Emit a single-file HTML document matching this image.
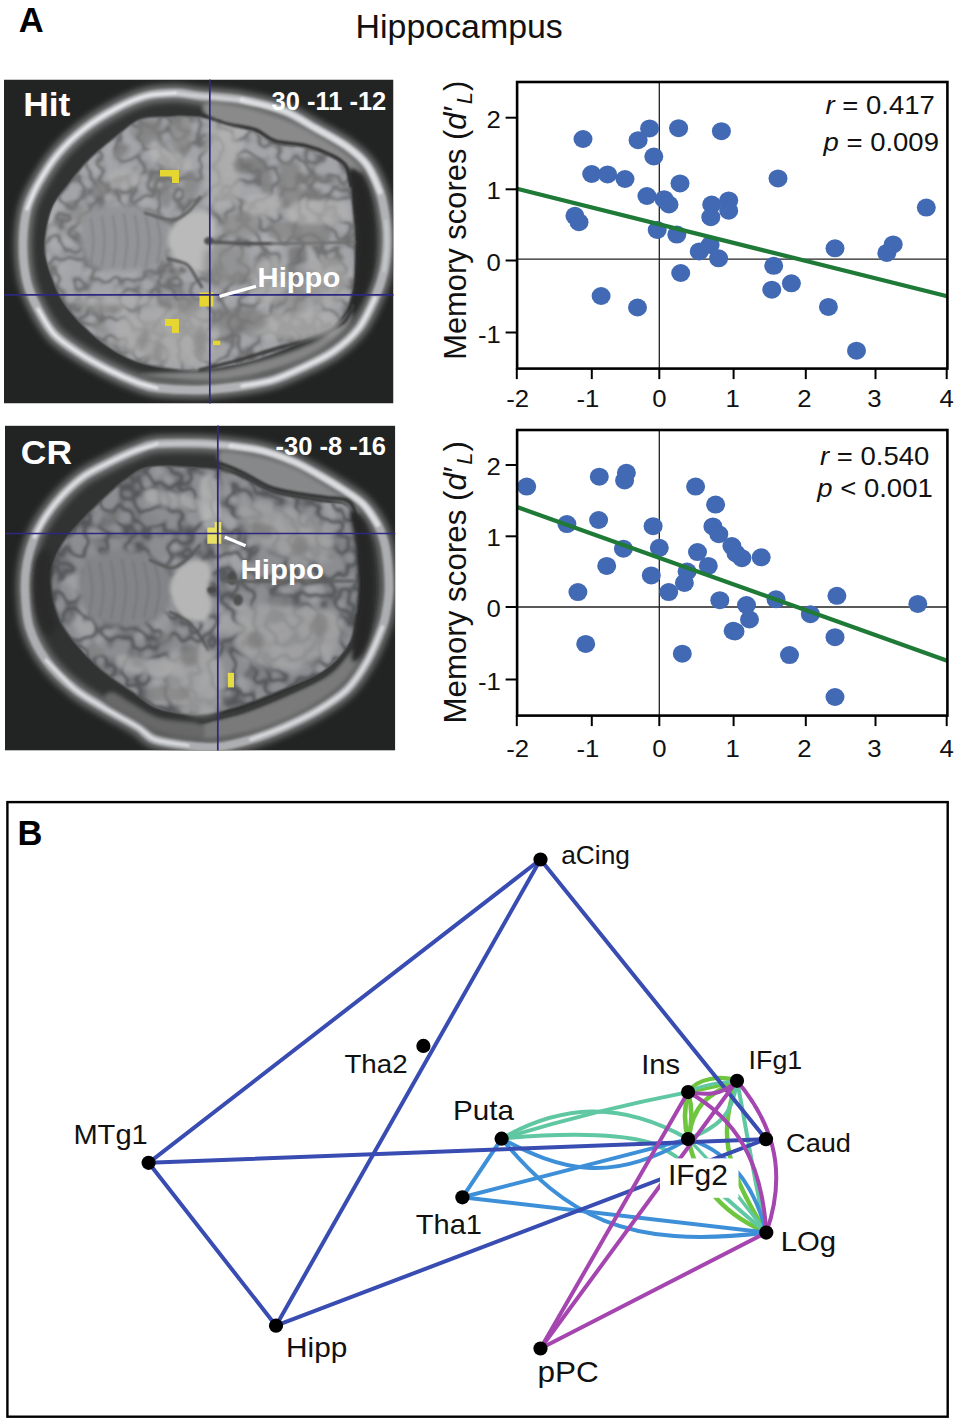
<!DOCTYPE html>
<html><head><meta charset="utf-8"><title>Figure</title>
<style>
html,body{margin:0;padding:0;background:#fff;}
body{width:957px;height:1422px;overflow:hidden;font-family:"Liberation Sans",sans-serif;}
svg{display:block;position:absolute;left:0;top:0;}
text{font-family:"Liberation Sans",sans-serif;}
</style></head><body>
<svg width="957" height="1422" viewBox="0 0 957 1422">
<defs>
<filter id="b0" filterUnits="userSpaceOnUse" x="0" y="70" width="400" height="690"><feGaussianBlur stdDeviation="0.7"/></filter>
<filter id="b1" filterUnits="userSpaceOnUse" x="0" y="70" width="400" height="690"><feGaussianBlur stdDeviation="1.2"/></filter>
<filter id="b2" filterUnits="userSpaceOnUse" x="0" y="70" width="400" height="690"><feGaussianBlur stdDeviation="2.0"/></filter>
<filter id="b3" filterUnits="userSpaceOnUse" x="0" y="70" width="400" height="690"><feGaussianBlur stdDeviation="3.2"/></filter>
<filter id="b5" filterUnits="userSpaceOnUse" x="0" y="70" width="400" height="690"><feGaussianBlur stdDeviation="6"/></filter>
<filter id="tex" filterUnits="userSpaceOnUse" x="0" y="70" width="400" height="690" color-interpolation-filters="sRGB">
 <feTurbulence type="fractalNoise" baseFrequency="0.05" numOctaves="2" seed="7" result="n"/>
 <feColorMatrix in="n" type="matrix" values="0 0 0 0 0.36  0 0 0 0 0.36  0 0 0 0 0.36  1 0 0 0 0" result="a"/>
 <feComponentTransfer in="a" result="b"><feFuncA type="table" tableValues="0 0 0 0 0 0.25 0.85 0.25 0 0 0 0 0"/></feComponentTransfer>
 <feGaussianBlur in="b" stdDeviation="1.0" result="c"/>
 <feComposite in="c" in2="SourceGraphic" operator="in"/>
</filter>
<filter id="texB" filterUnits="userSpaceOnUse" x="0" y="70" width="400" height="690" color-interpolation-filters="sRGB">
 <feTurbulence type="fractalNoise" baseFrequency="0.047" numOctaves="2" seed="23" result="n"/>
 <feColorMatrix in="n" type="matrix" values="0 0 0 0 0.30  0 0 0 0 0.31  0 0 0 0 0.32  1 0 0 0 0" result="a"/>
 <feComponentTransfer in="a" result="b"><feFuncA type="table" tableValues="0 0 0 0 0 0.3 0.9 0.3 0 0 0 0 0"/></feComponentTransfer>
 <feGaussianBlur in="b" stdDeviation="1.1" result="c"/>
 <feComposite in="c" in2="SourceGraphic" operator="in"/>
</filter>
<filter id="tex2" filterUnits="userSpaceOnUse" x="0" y="70" width="400" height="690" color-interpolation-filters="sRGB">
 <feTurbulence type="fractalNoise" baseFrequency="0.028" numOctaves="2" seed="11" result="n"/>
 <feColorMatrix in="n" type="matrix" values="0 0 0 0 0.74  0 0 0 0 0.74  0 0 0 0 0.74  0 1 0 0 0" result="a"/>
 <feComponentTransfer in="a" result="b"><feFuncA type="table" tableValues="0 0 0 0 0 0 0 0.3 0.6 0.8 0.8 0.8 0.8"/></feComponentTransfer>
 <feGaussianBlur in="b" stdDeviation="1.6" result="c"/>
 <feComposite in="c" in2="SourceGraphic" operator="in"/>
</filter>
<clipPath id="clipA"><rect x="4" y="79.5" width="389.5" height="324"/></clipPath>
<clipPath id="clipB"><rect x="5" y="425.6" width="390.3" height="325"/></clipPath>
</defs>
<g clip-path="url(#clipA)">
<rect x="4" y="79.5" width="389.5" height="324" fill="#222423"/>
<path d="M200.0,96.0 C211.2,97.2 228.0,97.5 242.0,100.0 C256.0,102.5 271.8,106.3 284.0,111.0 C296.2,115.7 304.7,122.2 315.0,128.0 C325.3,133.8 337.3,139.8 346.0,146.0 C354.7,152.2 361.3,157.3 367.0,165.0 C372.7,172.7 376.8,182.7 380.0,192.0 C383.2,201.3 384.8,212.2 386.0,221.0 C387.2,229.8 387.3,236.7 387.0,245.0 C386.7,253.3 386.0,262.2 384.0,271.0 C382.0,279.8 379.2,288.5 375.0,298.0 C370.8,307.5 365.8,319.2 359.0,328.0 C352.2,336.8 343.2,344.5 334.0,351.0 C324.8,357.5 314.2,362.2 304.0,367.0 C293.8,371.8 283.3,376.8 273.0,380.0 C262.7,383.2 254.2,384.3 242.0,386.0 C229.8,387.7 214.2,389.7 200.0,390.0 C185.8,390.3 167.7,389.3 157.0,388.0 C146.3,386.7 144.0,385.0 136.0,382.0 C128.0,379.0 118.5,374.8 109.0,370.0 C99.5,365.2 88.2,359.0 79.0,353.0 C69.8,347.0 60.8,341.3 54.0,334.0 C47.2,326.7 42.5,317.7 38.0,309.0 C33.5,300.3 29.5,292.7 27.0,282.0 C24.5,271.3 23.0,257.2 23.0,245.0 C23.0,232.8 24.5,219.2 27.0,209.0 C29.5,198.8 32.8,193.2 38.0,184.0 C43.2,174.8 50.3,163.2 58.0,154.0 C65.7,144.8 74.2,136.7 84.0,129.0 C93.8,121.3 106.7,113.5 117.0,108.0 C127.3,102.5 136.3,98.5 146.0,96.0 C155.7,93.5 166.0,93.0 175.0,93.0 C184.0,93.0 188.8,94.8 200.0,96.0Z" fill="#303332"/>
<path d="M200.0,96.0 C211.2,97.2 228.0,97.5 242.0,100.0 C256.0,102.5 271.8,106.3 284.0,111.0 C296.2,115.7 304.7,122.2 315.0,128.0 C325.3,133.8 337.3,139.8 346.0,146.0 C354.7,152.2 361.3,157.3 367.0,165.0 C372.7,172.7 376.8,182.7 380.0,192.0 C383.2,201.3 384.8,212.2 386.0,221.0 C387.2,229.8 387.3,236.7 387.0,245.0 C386.7,253.3 386.0,262.2 384.0,271.0 C382.0,279.8 379.2,288.5 375.0,298.0 C370.8,307.5 365.8,319.2 359.0,328.0 C352.2,336.8 343.2,344.5 334.0,351.0 C324.8,357.5 314.2,362.2 304.0,367.0 C293.8,371.8 283.3,376.8 273.0,380.0 C262.7,383.2 254.2,384.3 242.0,386.0 C229.8,387.7 214.2,389.7 200.0,390.0 C185.8,390.3 167.7,389.3 157.0,388.0 C146.3,386.7 144.0,385.0 136.0,382.0 C128.0,379.0 118.5,374.8 109.0,370.0 C99.5,365.2 88.2,359.0 79.0,353.0 C69.8,347.0 60.8,341.3 54.0,334.0 C47.2,326.7 42.5,317.7 38.0,309.0 C33.5,300.3 29.5,292.7 27.0,282.0 C24.5,271.3 23.0,257.2 23.0,245.0 C23.0,232.8 24.5,219.2 27.0,209.0 C29.5,198.8 32.8,193.2 38.0,184.0 C43.2,174.8 50.3,163.2 58.0,154.0 C65.7,144.8 74.2,136.7 84.0,129.0 C93.8,121.3 106.7,113.5 117.0,108.0 C127.3,102.5 136.3,98.5 146.0,96.0 C155.7,93.5 166.0,93.0 175.0,93.0 C184.0,93.0 188.8,94.8 200.0,96.0Z" fill="none" stroke="#747474" stroke-width="17" filter="url(#b3)"/>
<path d="M200.0,96.0 C211.2,97.2 228.0,97.5 242.0,100.0 C256.0,102.5 271.8,106.3 284.0,111.0 C296.2,115.7 304.7,122.2 315.0,128.0 C325.3,133.8 337.3,139.8 346.0,146.0 C354.7,152.2 361.3,157.3 367.0,165.0 C372.7,172.7 376.8,182.7 380.0,192.0 C383.2,201.3 384.8,212.2 386.0,221.0 C387.2,229.8 387.3,236.7 387.0,245.0 C386.7,253.3 386.0,262.2 384.0,271.0 C382.0,279.8 379.2,288.5 375.0,298.0 C370.8,307.5 365.8,319.2 359.0,328.0 C352.2,336.8 343.2,344.5 334.0,351.0 C324.8,357.5 314.2,362.2 304.0,367.0 C293.8,371.8 283.3,376.8 273.0,380.0 C262.7,383.2 254.2,384.3 242.0,386.0 C229.8,387.7 214.2,389.7 200.0,390.0 C185.8,390.3 167.7,389.3 157.0,388.0 C146.3,386.7 144.0,385.0 136.0,382.0 C128.0,379.0 118.5,374.8 109.0,370.0 C99.5,365.2 88.2,359.0 79.0,353.0 C69.8,347.0 60.8,341.3 54.0,334.0 C47.2,326.7 42.5,317.7 38.0,309.0 C33.5,300.3 29.5,292.7 27.0,282.0 C24.5,271.3 23.0,257.2 23.0,245.0 C23.0,232.8 24.5,219.2 27.0,209.0 C29.5,198.8 32.8,193.2 38.0,184.0 C43.2,174.8 50.3,163.2 58.0,154.0 C65.7,144.8 74.2,136.7 84.0,129.0 C93.8,121.3 106.7,113.5 117.0,108.0 C127.3,102.5 136.3,98.5 146.0,96.0 C155.7,93.5 166.0,93.0 175.0,93.0 C184.0,93.0 188.8,94.8 200.0,96.0Z" fill="none" stroke="#b0b2b5" stroke-width="8.5" filter="url(#b1)"/>
<path d="M27.0,209.0 C28.8,204.8 32.8,193.2 38.0,184.0 C43.2,174.8 50.3,163.2 58.0,154.0 C65.7,144.8 74.2,136.7 84.0,129.0 C93.8,121.3 106.7,113.5 117.0,108.0 C127.3,102.5 136.3,98.5 146.0,96.0 C155.7,93.5 170.2,93.5 175.0,93.0" fill="none" stroke="#eef0f2" stroke-width="3.2" stroke-linecap="round" filter="url(#b1)" opacity="0.9"/>
<path d="M157.0,388.0 C153.5,387.0 144.0,385.0 136.0,382.0 C128.0,379.0 118.5,374.8 109.0,370.0 C99.5,365.2 88.2,359.0 79.0,353.0 C69.8,347.0 60.8,341.3 54.0,334.0 C47.2,326.7 40.7,313.2 38.0,309.0" fill="none" stroke="#eef0f2" stroke-width="3.2" stroke-linecap="round" filter="url(#b1)" opacity="0.9"/>
<path d="M242.0,100.0 C249.0,101.8 271.8,106.3 284.0,111.0 C296.2,115.7 304.7,122.2 315.0,128.0 C325.3,133.8 337.3,139.8 346.0,146.0 C354.7,152.2 361.3,157.3 367.0,165.0 C372.7,172.7 377.8,187.5 380.0,192.0" fill="none" stroke="#eef0f2" stroke-width="5.0" stroke-linecap="round" filter="url(#b1)" opacity="0.7"/>
<path d="M375.0,298.0 C372.3,303.0 365.8,319.2 359.0,328.0 C352.2,336.8 343.2,344.5 334.0,351.0 C324.8,357.5 314.2,362.2 304.0,367.0 C293.8,371.8 283.3,376.8 273.0,380.0 C262.7,383.2 247.2,385.0 242.0,386.0" fill="none" stroke="#eef0f2" stroke-width="3.6" stroke-linecap="round" filter="url(#b1)" opacity="0.8"/>
<path d="M175.0,93.0 C179.2,93.5 188.8,94.8 200.0,96.0 C211.2,97.2 235.0,99.3 242.0,100.0" fill="none" stroke="#eef0f2" stroke-width="3.2" stroke-linecap="round" filter="url(#b1)" opacity="0.5"/>
<path d="M386.0,221.0 C386.2,225.0 387.3,236.7 387.0,245.0 C386.7,253.3 384.5,266.7 384.0,271.0" fill="none" stroke="#eef0f2" stroke-width="3.2" stroke-linecap="round" filter="url(#b1)" opacity="0.35"/>
<path d="M205.0,103.0 C210.8,100.8 231.7,104.3 245.0,107.0 C258.3,109.7 272.8,114.2 285.0,119.0 C297.2,123.8 308.0,130.3 318.0,136.0 C328.0,141.7 337.7,147.3 345.0,153.0 C352.3,158.7 360.8,166.8 362.0,170.0 C363.2,173.2 357.3,174.0 352.0,172.0 C346.7,170.0 338.7,161.7 330.0,158.0 C321.3,154.3 310.0,152.3 300.0,150.0 C290.0,147.7 280.0,147.3 270.0,144.0 C260.0,140.7 250.0,134.0 240.0,130.0 C230.0,126.0 215.8,124.5 210.0,120.0 C204.2,115.5 199.2,105.2 205.0,103.0Z" fill="#8a8a8a" filter="url(#b2)" opacity="1"/>
<path d="M140.0,375.0 C143.3,376.5 182.5,380.7 200.0,381.0 C217.5,381.3 230.8,379.5 245.0,377.0 C259.2,374.5 272.5,370.5 285.0,366.0 C297.5,361.5 309.7,356.3 320.0,350.0 C330.3,343.7 341.7,334.3 347.0,328.0 C352.3,321.7 352.5,313.7 352.0,312.0 C351.5,310.3 348.5,314.0 344.0,318.0 C339.5,322.0 333.2,330.7 325.0,336.0 C316.8,341.3 305.8,345.8 295.0,350.0 C284.2,354.2 272.5,357.7 260.0,361.0 C247.5,364.3 233.3,368.2 220.0,370.0 C206.7,371.8 193.3,371.2 180.0,372.0 C166.7,372.8 136.7,373.5 140.0,375.0Z" fill="#858585" filter="url(#b2)" opacity="1"/>
<path d="M200.0,117.0 C207.5,117.2 208.0,116.3 215.0,118.0 C222.0,119.7 232.3,123.0 242.0,127.0 C251.7,131.0 262.5,138.5 273.0,142.0 C283.5,145.5 295.5,145.7 305.0,148.0 C314.5,150.3 323.3,153.0 330.0,156.0 C336.7,159.0 341.5,161.7 345.0,166.0 C348.5,170.3 349.8,176.3 351.0,182.0 C352.2,187.7 351.5,193.5 352.0,200.0 C352.5,206.5 353.5,214.3 354.0,221.0 C354.5,227.7 355.0,230.2 355.0,240.0 C355.0,249.8 355.5,268.3 354.0,280.0 C352.5,291.7 350.8,301.3 346.0,310.0 C341.2,318.7 333.7,326.2 325.0,332.0 C316.3,337.8 303.3,341.2 294.0,345.0 C284.7,348.8 277.7,352.0 269.0,355.0 C260.3,358.0 253.5,360.5 242.0,363.0 C230.5,365.5 212.5,369.2 200.0,370.0 C187.5,370.8 177.7,369.5 167.0,368.0 C156.3,366.5 145.7,364.5 136.0,361.0 C126.3,357.5 117.7,352.8 109.0,347.0 C100.3,341.2 91.7,333.7 84.0,326.0 C76.3,318.3 68.7,310.2 63.0,301.0 C57.3,291.8 53.0,280.3 50.0,271.0 C47.0,261.7 44.7,255.3 45.0,245.0 C45.3,234.7 48.0,219.2 52.0,209.0 C56.0,198.8 62.7,192.3 69.0,184.0 C75.3,175.7 82.0,167.0 90.0,159.0 C98.0,151.0 108.7,142.5 117.0,136.0 C125.3,129.5 131.2,123.2 140.0,120.0 C148.8,116.8 160.0,117.5 170.0,117.0 C180.0,116.5 192.5,116.8 200.0,117.0Z" fill="#a3a4a8" filter="url(#b1)" opacity="1"/>
<path d="M200.0,117.0 C207.5,117.2 208.0,116.3 215.0,118.0 C222.0,119.7 232.3,123.0 242.0,127.0 C251.7,131.0 262.5,138.5 273.0,142.0 C283.5,145.5 295.5,145.7 305.0,148.0 C314.5,150.3 323.3,153.0 330.0,156.0 C336.7,159.0 341.5,161.7 345.0,166.0 C348.5,170.3 349.8,176.3 351.0,182.0 C352.2,187.7 351.5,193.5 352.0,200.0 C352.5,206.5 353.5,214.3 354.0,221.0 C354.5,227.7 355.0,230.2 355.0,240.0 C355.0,249.8 355.5,268.3 354.0,280.0 C352.5,291.7 350.8,301.3 346.0,310.0 C341.2,318.7 333.7,326.2 325.0,332.0 C316.3,337.8 303.3,341.2 294.0,345.0 C284.7,348.8 277.7,352.0 269.0,355.0 C260.3,358.0 253.5,360.5 242.0,363.0 C230.5,365.5 212.5,369.2 200.0,370.0 C187.5,370.8 177.7,369.5 167.0,368.0 C156.3,366.5 145.7,364.5 136.0,361.0 C126.3,357.5 117.7,352.8 109.0,347.0 C100.3,341.2 91.7,333.7 84.0,326.0 C76.3,318.3 68.7,310.2 63.0,301.0 C57.3,291.8 53.0,280.3 50.0,271.0 C47.0,261.7 44.7,255.3 45.0,245.0 C45.3,234.7 48.0,219.2 52.0,209.0 C56.0,198.8 62.7,192.3 69.0,184.0 C75.3,175.7 82.0,167.0 90.0,159.0 C98.0,151.0 108.7,142.5 117.0,136.0 C125.3,129.5 131.2,123.2 140.0,120.0 C148.8,116.8 160.0,117.5 170.0,117.0 C180.0,116.5 192.5,116.8 200.0,117.0Z" fill="#000" filter="url(#tex2)" opacity="0.55"/>
<path d="M200.0,117.0 C207.5,117.2 208.0,116.3 215.0,118.0 C222.0,119.7 232.3,123.0 242.0,127.0 C251.7,131.0 262.5,138.5 273.0,142.0 C283.5,145.5 295.5,145.7 305.0,148.0 C314.5,150.3 323.3,153.0 330.0,156.0 C336.7,159.0 341.5,161.7 345.0,166.0 C348.5,170.3 349.8,176.3 351.0,182.0 C352.2,187.7 351.5,193.5 352.0,200.0 C352.5,206.5 353.5,214.3 354.0,221.0 C354.5,227.7 355.0,230.2 355.0,240.0 C355.0,249.8 355.5,268.3 354.0,280.0 C352.5,291.7 350.8,301.3 346.0,310.0 C341.2,318.7 333.7,326.2 325.0,332.0 C316.3,337.8 303.3,341.2 294.0,345.0 C284.7,348.8 277.7,352.0 269.0,355.0 C260.3,358.0 253.5,360.5 242.0,363.0 C230.5,365.5 212.5,369.2 200.0,370.0 C187.5,370.8 177.7,369.5 167.0,368.0 C156.3,366.5 145.7,364.5 136.0,361.0 C126.3,357.5 117.7,352.8 109.0,347.0 C100.3,341.2 91.7,333.7 84.0,326.0 C76.3,318.3 68.7,310.2 63.0,301.0 C57.3,291.8 53.0,280.3 50.0,271.0 C47.0,261.7 44.7,255.3 45.0,245.0 C45.3,234.7 48.0,219.2 52.0,209.0 C56.0,198.8 62.7,192.3 69.0,184.0 C75.3,175.7 82.0,167.0 90.0,159.0 C98.0,151.0 108.7,142.5 117.0,136.0 C125.3,129.5 131.2,123.2 140.0,120.0 C148.8,116.8 160.0,117.5 170.0,117.0 C180.0,116.5 192.5,116.8 200.0,117.0Z" fill="#000" filter="url(#tex)" opacity="0.9"/>
<path d="M203.0,115.5 C207.2,116.9 219.2,121.6 228.0,124.0 C236.8,126.4 248.2,127.2 256.0,130.0 C263.8,132.8 266.8,138.4 275.0,141.0 C283.2,143.6 295.7,143.2 305.0,145.5 C314.3,147.8 324.2,151.6 331.0,155.0 C337.8,158.4 342.7,160.8 346.0,166.0 C349.3,171.2 350.2,182.7 351.0,186.0" fill="none" stroke="#333" stroke-width="3.5" stroke-linecap="round" filter="url(#b1)" opacity="1"/>
<path d="M350.0,170.0 C351.3,165.2 358.5,171.0 362.0,176.0 C365.5,181.0 368.8,189.3 371.0,200.0 C373.2,210.7 374.8,227.5 375.0,240.0 C375.2,252.5 374.2,265.0 372.0,275.0 C369.8,285.0 365.3,293.8 362.0,300.0 C358.7,306.2 353.2,315.0 352.0,312.0 C350.8,309.0 354.2,294.0 355.0,282.0 C355.8,270.0 357.2,252.8 357.0,240.0 C356.8,227.2 355.2,216.7 354.0,205.0 C352.8,193.3 348.7,174.8 350.0,170.0Z" fill="#262726" filter="url(#b2)" opacity="1"/>
<path d="M200.0,369.8 C206.3,368.2 225.1,363.9 237.6,360.4 C250.1,356.9 262.5,352.8 275.0,349.0 C287.5,345.2 301.5,342.1 312.8,337.8 C324.1,333.5 336.3,328.3 343.0,323.0 C349.7,317.7 351.3,308.7 353.0,305.8" fill="none" stroke="#3a3a3a" stroke-width="3.5" stroke-linecap="round" filter="url(#b1)" opacity="1"/>
<path d="M88.0,212.0 C94.7,206.0 109.7,204.3 120.0,204.0 C130.3,203.7 142.0,206.5 150.0,210.0 C158.0,213.5 164.7,219.8 168.0,225.0 C171.3,230.2 170.3,235.5 170.0,241.0 C169.7,246.5 169.3,253.5 166.0,258.0 C162.7,262.5 157.7,265.7 150.0,268.0 C142.3,270.3 129.7,272.3 120.0,272.0 C110.3,271.7 98.7,271.3 92.0,266.0 C85.3,260.7 80.7,249.0 80.0,240.0 C79.3,231.0 81.3,218.0 88.0,212.0Z" fill="#939497" filter="url(#b3)" opacity="1"/>
<path d="M91.0,218.5 C91.4,222.2 93.4,233.5 93.4,241.0 C93.4,248.5 91.4,259.8 91.0,263.5" fill="none" stroke="#707174" stroke-width="1.8" stroke-linecap="round" filter="url(#b1)" opacity="0.45"/>
<path d="M102.0,217.0 C102.4,221.0 104.6,233.0 104.6,241.0 C104.6,249.0 102.4,261.0 102.0,265.0" fill="none" stroke="#707174" stroke-width="1.8" stroke-linecap="round" filter="url(#b1)" opacity="0.45"/>
<path d="M113.0,215.5 C113.5,219.8 115.8,232.5 115.8,241.0 C115.8,249.5 113.5,262.2 113.0,266.5" fill="none" stroke="#707174" stroke-width="1.8" stroke-linecap="round" filter="url(#b1)" opacity="0.45"/>
<path d="M124.0,214.0 C124.5,218.5 127.0,232.0 127.0,241.0 C127.0,250.0 124.5,263.5 124.0,268.0" fill="none" stroke="#707174" stroke-width="1.8" stroke-linecap="round" filter="url(#b1)" opacity="0.45"/>
<path d="M135.0,215.5 C135.5,219.8 138.2,232.5 138.2,241.0 C138.2,249.5 135.5,262.2 135.0,266.5" fill="none" stroke="#707174" stroke-width="1.8" stroke-linecap="round" filter="url(#b1)" opacity="0.45"/>
<path d="M146.0,217.0 C146.6,221.0 149.4,233.0 149.4,241.0 C149.4,249.0 146.6,261.0 146.0,265.0" fill="none" stroke="#707174" stroke-width="1.8" stroke-linecap="round" filter="url(#b1)" opacity="0.45"/>
<path d="M157.0,218.5 C157.6,222.2 160.6,233.5 160.6,241.0 C160.6,248.5 157.6,259.8 157.0,263.5" fill="none" stroke="#707174" stroke-width="1.8" stroke-linecap="round" filter="url(#b1)" opacity="0.45"/>
<path d="M168.0,241.0 C168.0,234.7 172.0,226.7 176.0,222.0 C180.0,217.3 186.5,214.7 192.0,213.0 C197.5,211.3 205.0,210.0 209.0,212.0 C213.0,214.0 215.2,220.2 216.0,225.0 C216.8,229.8 214.0,235.5 214.0,241.0 C214.0,246.5 217.0,253.0 216.0,258.0 C215.0,263.0 212.3,269.0 208.0,271.0 C203.7,273.0 195.3,271.8 190.0,270.0 C184.7,268.2 179.7,264.8 176.0,260.0 C172.3,255.2 168.0,247.3 168.0,241.0Z" fill="#bababa" filter="url(#b2)" opacity="1"/>
<ellipse cx="209.0" cy="241.0" rx="5.0" ry="4.0" fill="#4e4e4e" filter="url(#b1)" opacity="1" transform="rotate(0 209.0 241.0)"/>
<path d="M145.0,213.0 C149.5,214.2 164.7,220.3 172.0,220.0 C179.3,219.7 184.3,214.8 189.0,211.0 C193.7,207.2 198.2,199.3 200.0,197.0" fill="none" stroke="#606060" stroke-width="3" stroke-linecap="round" filter="url(#b1)" opacity="1"/>
<path d="M168.0,259.0 C171.1,259.9 182.0,261.4 186.7,264.5 C191.4,267.6 193.5,273.9 196.0,277.6 C198.5,281.4 200.8,285.4 201.7,287.0" fill="none" stroke="#5c5c5c" stroke-width="3" stroke-linecap="round" filter="url(#b1)" opacity="1"/>
<path d="M213.0,242.0 C217.5,242.2 230.3,243.2 240.0,243.5 C249.7,243.8 265.8,243.5 271.0,243.5" fill="none" stroke="#505050" stroke-width="3.2" stroke-linecap="round" filter="url(#b1)" opacity="1"/>
<path d="M271.0,243.5 C277.5,243.4 296.2,243.2 310.0,243.0 C323.8,242.8 346.7,242.2 354.0,242.0" fill="none" stroke="#707070" stroke-width="3" stroke-linecap="round" filter="url(#b1)" opacity="1"/>
<path d="M138.0,122.0 C141.3,118.2 156.3,117.3 160.0,121.0 C163.7,124.7 163.3,140.2 160.0,144.0 C156.7,147.8 143.7,147.7 140.0,144.0 C136.3,140.3 134.7,125.8 138.0,122.0Z" fill="#7e7e7e" filter="url(#b2)" opacity="0.7"/>
<path d="M172.0,121.0 C174.5,115.7 186.2,115.7 189.0,121.0 C191.8,126.3 191.5,147.7 189.0,153.0 C186.5,158.3 176.8,158.3 174.0,153.0 C171.2,147.7 169.5,126.3 172.0,121.0Z" fill="#8a8a8a" filter="url(#b2)" opacity="0.7"/>
<ellipse cx="166.0" cy="196.0" rx="6.0" ry="12.0" fill="#808080" filter="url(#b2)" opacity="0.7" transform="rotate(0 166.0 196.0)"/>
<ellipse cx="191.0" cy="187.0" rx="8.0" ry="13.0" fill="#868686" filter="url(#b2)" opacity="0.7" transform="rotate(0 191.0 187.0)"/>
<path d="M153.0,140.0 C156.3,139.2 163.8,146.7 170.0,150.0 C176.2,153.3 187.0,156.3 190.0,160.0 C193.0,163.7 192.2,170.7 188.0,172.0 C183.8,173.3 171.3,170.8 165.0,168.0 C158.7,165.2 152.0,159.7 150.0,155.0 C148.0,150.3 149.7,140.8 153.0,140.0Z" fill="#b6b6b6" filter="url(#b2)" opacity="0.7"/>
<path d="M111.0,172.0 C115.3,169.0 133.2,167.8 138.0,170.0 C142.8,172.2 144.3,182.0 140.0,185.0 C135.7,188.0 116.8,190.2 112.0,188.0 C107.2,185.8 106.7,175.0 111.0,172.0Z" fill="#b0b0b0" filter="url(#b2)" opacity="0.7"/>
<ellipse cx="100.0" cy="190.0" rx="9.0" ry="6.0" fill="#8a8a8a" filter="url(#b2)" opacity="0.7" transform="rotate(-30 100.0 190.0)"/>
<ellipse cx="80.0" cy="215.0" rx="7.0" ry="10.0" fill="#8c8c8c" filter="url(#b2)" opacity="0.7" transform="rotate(0 80.0 215.0)"/>
<ellipse cx="122.0" cy="152.0" rx="10.0" ry="6.0" fill="#8c8c8c" filter="url(#b2)" opacity="0.7" transform="rotate(-35 122.0 152.0)"/>
<path d="M207.0,129.0 C210.0,116.2 219.8,125.5 225.0,127.0 C230.2,128.5 235.8,125.8 238.0,138.0 C240.2,150.2 240.2,188.5 238.0,200.0 C235.8,211.5 230.2,206.3 225.0,207.0 C219.8,207.7 210.0,217.0 207.0,204.0 C204.0,191.0 204.0,141.8 207.0,129.0Z" fill="#b0b0b0" filter="url(#b3)" opacity="0.7"/>
<path d="M237.0,159.0 C241.2,156.8 257.8,156.8 262.0,159.0 C266.2,161.2 266.2,169.8 262.0,172.0 C257.8,174.2 241.2,174.2 237.0,172.0 C232.8,169.8 232.8,161.2 237.0,159.0Z" fill="#737373" filter="url(#b2)" opacity="0.7"/>
<path d="M262.0,172.0 C263.5,168.5 269.5,168.5 271.0,172.0 C272.5,175.5 272.5,189.5 271.0,193.0 C269.5,196.5 263.5,196.5 262.0,193.0 C260.5,189.5 260.5,175.5 262.0,172.0Z" fill="#7a7a7a" filter="url(#b2)" opacity="0.7"/>
<path d="M281.0,166.0 C284.2,159.7 296.8,159.7 300.0,166.0 C303.2,172.3 303.2,197.7 300.0,204.0 C296.8,210.3 284.2,210.3 281.0,204.0 C277.8,197.7 277.8,172.3 281.0,166.0Z" fill="#7d7d7d" filter="url(#b2)" opacity="0.7"/>
<path d="M298.0,175.0 C303.7,174.2 326.3,174.8 332.0,176.0 C337.7,177.2 337.7,181.2 332.0,182.0 C326.3,182.8 303.7,182.2 298.0,181.0 C292.3,179.8 292.3,175.8 298.0,175.0Z" fill="#787878" filter="url(#b2)" opacity="0.7"/>
<path d="M303.0,189.0 C305.8,187.5 317.2,187.5 320.0,189.0 C322.8,190.5 322.8,196.5 320.0,198.0 C317.2,199.5 305.8,199.5 303.0,198.0 C300.2,196.5 300.2,190.5 303.0,189.0Z" fill="#7c7c7c" filter="url(#b2)" opacity="0.7"/>
<path d="M271.0,223.0 C275.5,220.5 293.5,220.5 298.0,223.0 C302.5,225.5 302.5,235.5 298.0,238.0 C293.5,240.5 275.5,240.5 271.0,238.0 C266.5,235.5 266.5,225.5 271.0,223.0Z" fill="#838383" filter="url(#b2)" opacity="0.7"/>
<path d="M301.0,223.0 C305.5,220.0 323.5,220.0 328.0,223.0 C332.5,226.0 332.5,238.0 328.0,241.0 C323.5,244.0 305.5,244.0 301.0,241.0 C296.5,238.0 296.5,226.0 301.0,223.0Z" fill="#7e7e7e" filter="url(#b2)" opacity="0.7"/>
<path d="M247.0,196.0 C252.3,192.8 273.7,192.8 279.0,196.0 C284.3,199.2 284.3,211.8 279.0,215.0 C273.7,218.2 252.3,218.2 247.0,215.0 C241.7,211.8 241.7,199.2 247.0,196.0Z" fill="#b4b4b4" filter="url(#b2)" opacity="0.7"/>
<path d="M294.0,202.0 C302.2,198.7 334.8,198.7 343.0,202.0 C351.2,205.3 351.2,218.7 343.0,222.0 C334.8,225.3 302.2,225.3 294.0,222.0 C285.8,218.7 285.8,205.3 294.0,202.0Z" fill="#b2b2b2" filter="url(#b2)" opacity="0.7"/>
<path d="M225.0,215.0 C230.0,211.7 250.0,211.7 255.0,215.0 C260.0,218.3 260.0,231.7 255.0,235.0 C250.0,238.3 230.0,238.3 225.0,235.0 C220.0,231.7 220.0,218.3 225.0,215.0Z" fill="#8c8c8c" filter="url(#b2)" opacity="0.7"/>
<path d="M78.0,297.0 C89.0,295.2 138.0,294.5 150.0,296.0 C162.0,297.5 161.0,304.2 150.0,306.0 C139.0,307.8 96.0,308.5 84.0,307.0 C72.0,305.5 67.0,298.8 78.0,297.0Z" fill="#b0b0b0" filter="url(#b3)" opacity="0.7"/>
<path d="M125.0,315.0 C139.2,309.2 191.3,302.2 205.0,310.0 C218.7,317.8 216.2,353.7 207.0,362.0 C197.8,370.3 164.5,362.8 150.0,360.0 C135.5,357.2 124.2,352.5 120.0,345.0 C115.8,337.5 110.8,320.8 125.0,315.0Z" fill="#acacac" filter="url(#b3)" opacity="0.7"/>
<path d="M158.5,296.0 C160.7,294.3 169.5,294.3 171.7,296.0 C173.9,297.7 173.9,304.3 171.7,306.0 C169.5,307.7 160.7,307.7 158.5,306.0 C156.3,304.3 156.3,297.7 158.5,296.0Z" fill="#868686" filter="url(#b2)" opacity="0.7"/>
<path d="M179.0,298.0 C182.2,295.8 194.8,295.8 198.0,298.0 C201.2,300.2 201.2,309.2 198.0,311.5 C194.8,313.8 182.2,313.8 179.0,311.5 C175.8,309.2 175.8,300.2 179.0,298.0Z" fill="#8a8a8a" filter="url(#b2)" opacity="0.7"/>
<path d="M92.7,306.0 C97.1,304.8 114.6,304.8 119.0,306.0 C123.4,307.2 123.4,311.8 119.0,313.0 C114.6,314.2 97.1,314.2 92.7,313.0 C88.3,311.8 88.3,307.2 92.7,306.0Z" fill="#8c8c8c" filter="url(#b2)" opacity="0.7"/>
<ellipse cx="143.5" cy="341.0" rx="4.5" ry="11.0" fill="#888" filter="url(#b2)" opacity="0.7" transform="rotate(15 143.5 341.0)"/>
<ellipse cx="158.5" cy="352.0" rx="4.5" ry="10.0" fill="#8a8a8a" filter="url(#b2)" opacity="0.7" transform="rotate(10 158.5 352.0)"/>
<ellipse cx="200.5" cy="343.0" rx="6.0" ry="18.0" fill="#8a8a8a" filter="url(#b2)" opacity="0.7" transform="rotate(0 200.5 343.0)"/>
<ellipse cx="100.0" cy="328.0" rx="10.0" ry="5.0" fill="#8a8a8a" filter="url(#b2)" opacity="0.7" transform="rotate(35 100.0 328.0)"/>
<path d="M206.0,250.0 C209.7,244.3 221.2,245.7 228.0,246.0 C234.8,246.3 243.8,246.7 247.0,252.0 C250.2,257.3 250.2,272.5 247.0,278.0 C243.8,283.5 234.8,284.7 228.0,285.0 C221.2,285.3 209.7,285.8 206.0,280.0 C202.3,274.2 202.3,255.7 206.0,250.0Z" fill="#8c8c8c" filter="url(#b3)" opacity="0.7"/>
<path d="M290.0,247.5 C292.5,245.0 302.5,245.0 305.0,247.5 C307.5,250.0 307.5,260.1 305.0,262.6 C302.5,265.1 292.5,265.1 290.0,262.6 C287.5,260.1 287.5,250.0 290.0,247.5Z" fill="#6e6e6e" filter="url(#b2)" opacity="0.7"/>
<path d="M262.0,315.0 C273.5,310.8 319.5,309.7 331.0,313.0 C342.5,316.3 342.5,330.8 331.0,335.0 C319.5,339.2 273.5,341.3 262.0,338.0 C250.5,334.7 250.5,319.2 262.0,315.0Z" fill="#b2b2b2" filter="url(#b3)" opacity="0.7"/>
<path d="M219.0,311.0 C226.2,307.8 254.8,307.8 262.0,311.0 C269.2,314.2 269.2,326.8 262.0,330.0 C254.8,333.2 226.2,333.2 219.0,330.0 C211.8,326.8 211.8,314.2 219.0,311.0Z" fill="#7a7a7a" filter="url(#b3)" opacity="0.7"/>
<path d="M255.0,262.0 C260.0,255.7 280.0,255.7 285.0,262.0 C290.0,268.3 290.0,293.7 285.0,300.0 C280.0,306.3 260.0,306.3 255.0,300.0 C250.0,293.7 250.0,268.3 255.0,262.0Z" fill="#adadad" filter="url(#b3)" opacity="0.7"/>
<path d="M310.0,262.0 C315.5,254.8 339.5,255.7 345.0,262.0 C350.5,268.3 348.5,292.8 343.0,300.0 C337.5,307.2 317.5,311.3 312.0,305.0 C306.5,298.7 304.5,269.2 310.0,262.0Z" fill="#a8a8a8" filter="url(#b3)" opacity="0.7"/>
<path d="M288.0,270.0 C290.8,263.3 302.2,263.3 305.0,270.0 C307.8,276.7 307.8,303.3 305.0,310.0 C302.2,316.7 290.8,316.7 288.0,310.0 C285.2,303.3 285.2,276.7 288.0,270.0Z" fill="#8a8a8a" filter="url(#b3)" opacity="0.7"/>
</g>
<path d="M160,170h19v13h-7v-6.5h-12z" fill="#e6d632"/>
<rect x="199.5" y="292.5" width="13.8" height="14" fill="#e6d632"/>
<path d="M165,319h14v14h-7v-7h-7z" fill="#e6d632"/>
<rect x="213" y="340.7" width="7.3" height="4.5" fill="#e6d632"/>
<line x1="209.8" y1="79.5" x2="209.8" y2="403.5" stroke="#2c2880" stroke-width="1.7"/>
<line x1="4" y1="294.8" x2="393.5" y2="294.8" stroke="#2c2880" stroke-width="1.7"/>
<line x1="219.5" y1="296.3" x2="256" y2="286.3" stroke="#fff" stroke-width="3.4"/>
<text transform="translate(23.2,115.8) scale(1.09,1)" font-size="32.5" font-weight="bold" fill="#fff">Hit</text>
<text transform="translate(271.6,110.4) scale(0.968,1)" font-size="26.3" font-weight="bold" fill="#fff">30 -11 -12</text>
<text transform="translate(257.6,286.6) scale(1.05,1)" font-size="27.8" font-weight="bold" fill="#fff">Hippo</text>
<g clip-path="url(#clipB)">
<rect x="5" y="425.6" width="390.3" height="325" fill="#222423"/>
<path d="M200.0,443.5 C212.4,443.8 220.5,444.8 231.0,446.0 C241.5,447.2 252.5,448.3 263.0,451.0 C273.5,453.7 285.0,458.2 294.0,462.0 C303.0,465.8 309.0,469.5 317.0,474.0 C325.0,478.5 334.3,484.0 342.0,489.0 C349.7,494.0 357.1,498.1 363.0,504.0 C368.9,509.9 373.9,517.7 377.6,524.5 C381.3,531.3 383.3,538.1 385.0,545.0 C386.7,551.9 387.3,558.5 388.0,566.0 C388.7,573.5 389.2,582.7 389.0,590.0 C388.8,597.3 387.7,603.8 386.6,610.0 C385.5,616.2 385.5,618.7 382.4,627.0 C379.3,635.3 373.7,649.6 367.8,660.0 C361.9,670.4 355.4,681.1 347.0,689.5 C338.6,697.9 328.2,704.1 317.7,710.4 C307.2,716.6 295.3,722.1 284.2,727.0 C273.1,731.9 262.0,736.2 250.8,739.5 C239.6,742.8 227.5,746.0 217.0,747.0 C206.5,748.0 198.4,746.8 188.0,745.5 C177.6,744.2 162.9,742.6 154.6,739.5 C146.3,736.4 145.7,731.9 138.0,727.0 C130.3,722.1 119.2,716.6 108.7,710.4 C98.2,704.1 85.7,697.9 75.2,689.5 C64.8,681.1 53.6,670.7 46.0,660.2 C38.4,649.8 32.8,638.5 29.3,626.8 C25.8,615.1 25.4,600.8 25.0,590.0 C24.6,579.2 25.6,570.8 27.2,562.0 C28.8,553.2 31.4,544.7 34.5,537.0 C37.6,529.3 41.3,523.0 46.0,516.0 C50.7,509.0 56.4,501.6 62.7,495.0 C69.0,488.4 75.9,481.8 83.6,476.4 C91.3,471.0 100.4,467.0 108.7,462.8 C117.0,458.6 125.7,454.4 133.7,451.3 C141.7,448.2 145.6,445.3 156.7,444.0 C167.8,442.7 187.6,443.2 200.0,443.5Z" fill="#303332"/>
<path d="M200.0,443.5 C212.4,443.8 220.5,444.8 231.0,446.0 C241.5,447.2 252.5,448.3 263.0,451.0 C273.5,453.7 285.0,458.2 294.0,462.0 C303.0,465.8 309.0,469.5 317.0,474.0 C325.0,478.5 334.3,484.0 342.0,489.0 C349.7,494.0 357.1,498.1 363.0,504.0 C368.9,509.9 373.9,517.7 377.6,524.5 C381.3,531.3 383.3,538.1 385.0,545.0 C386.7,551.9 387.3,558.5 388.0,566.0 C388.7,573.5 389.2,582.7 389.0,590.0 C388.8,597.3 387.7,603.8 386.6,610.0 C385.5,616.2 385.5,618.7 382.4,627.0 C379.3,635.3 373.7,649.6 367.8,660.0 C361.9,670.4 355.4,681.1 347.0,689.5 C338.6,697.9 328.2,704.1 317.7,710.4 C307.2,716.6 295.3,722.1 284.2,727.0 C273.1,731.9 262.0,736.2 250.8,739.5 C239.6,742.8 227.5,746.0 217.0,747.0 C206.5,748.0 198.4,746.8 188.0,745.5 C177.6,744.2 162.9,742.6 154.6,739.5 C146.3,736.4 145.7,731.9 138.0,727.0 C130.3,722.1 119.2,716.6 108.7,710.4 C98.2,704.1 85.7,697.9 75.2,689.5 C64.8,681.1 53.6,670.7 46.0,660.2 C38.4,649.8 32.8,638.5 29.3,626.8 C25.8,615.1 25.4,600.8 25.0,590.0 C24.6,579.2 25.6,570.8 27.2,562.0 C28.8,553.2 31.4,544.7 34.5,537.0 C37.6,529.3 41.3,523.0 46.0,516.0 C50.7,509.0 56.4,501.6 62.7,495.0 C69.0,488.4 75.9,481.8 83.6,476.4 C91.3,471.0 100.4,467.0 108.7,462.8 C117.0,458.6 125.7,454.4 133.7,451.3 C141.7,448.2 145.6,445.3 156.7,444.0 C167.8,442.7 187.6,443.2 200.0,443.5Z" fill="none" stroke="#707070" stroke-width="17" filter="url(#b3)"/>
<path d="M200.0,443.5 C212.4,443.8 220.5,444.8 231.0,446.0 C241.5,447.2 252.5,448.3 263.0,451.0 C273.5,453.7 285.0,458.2 294.0,462.0 C303.0,465.8 309.0,469.5 317.0,474.0 C325.0,478.5 334.3,484.0 342.0,489.0 C349.7,494.0 357.1,498.1 363.0,504.0 C368.9,509.9 373.9,517.7 377.6,524.5 C381.3,531.3 383.3,538.1 385.0,545.0 C386.7,551.9 387.3,558.5 388.0,566.0 C388.7,573.5 389.2,582.7 389.0,590.0 C388.8,597.3 387.7,603.8 386.6,610.0 C385.5,616.2 385.5,618.7 382.4,627.0 C379.3,635.3 373.7,649.6 367.8,660.0 C361.9,670.4 355.4,681.1 347.0,689.5 C338.6,697.9 328.2,704.1 317.7,710.4 C307.2,716.6 295.3,722.1 284.2,727.0 C273.1,731.9 262.0,736.2 250.8,739.5 C239.6,742.8 227.5,746.0 217.0,747.0 C206.5,748.0 198.4,746.8 188.0,745.5 C177.6,744.2 162.9,742.6 154.6,739.5 C146.3,736.4 145.7,731.9 138.0,727.0 C130.3,722.1 119.2,716.6 108.7,710.4 C98.2,704.1 85.7,697.9 75.2,689.5 C64.8,681.1 53.6,670.7 46.0,660.2 C38.4,649.8 32.8,638.5 29.3,626.8 C25.8,615.1 25.4,600.8 25.0,590.0 C24.6,579.2 25.6,570.8 27.2,562.0 C28.8,553.2 31.4,544.7 34.5,537.0 C37.6,529.3 41.3,523.0 46.0,516.0 C50.7,509.0 56.4,501.6 62.7,495.0 C69.0,488.4 75.9,481.8 83.6,476.4 C91.3,471.0 100.4,467.0 108.7,462.8 C117.0,458.6 125.7,454.4 133.7,451.3 C141.7,448.2 145.6,445.3 156.7,444.0 C167.8,442.7 187.6,443.2 200.0,443.5Z" fill="none" stroke="#acaeb1" stroke-width="8.5" filter="url(#b1)"/>
<path d="M34.5,537.0 C36.4,533.5 41.3,523.0 46.0,516.0 C50.7,509.0 56.4,501.6 62.7,495.0 C69.0,488.4 75.9,481.8 83.6,476.4 C91.3,471.0 100.4,467.0 108.7,462.8 C117.0,458.6 125.7,454.4 133.7,451.3 C141.7,448.2 152.9,445.2 156.7,444.0" fill="none" stroke="#eceef0" stroke-width="3.4" stroke-linecap="round" filter="url(#b1)" opacity="0.8"/>
<path d="M188.0,745.5 C182.4,744.5 162.9,742.6 154.6,739.5 C146.3,736.4 145.7,731.9 138.0,727.0 C130.3,722.1 119.2,716.6 108.7,710.4 C98.2,704.1 85.7,697.9 75.2,689.5 C64.8,681.1 50.9,665.1 46.0,660.2" fill="none" stroke="#eceef0" stroke-width="3.2" stroke-linecap="round" filter="url(#b1)" opacity="0.75"/>
<path d="M231.0,446.0 C236.3,446.8 252.5,448.3 263.0,451.0 C273.5,453.7 285.0,458.2 294.0,462.0 C303.0,465.8 309.0,469.5 317.0,474.0 C325.0,478.5 334.3,484.0 342.0,489.0 C349.7,494.0 357.1,498.1 363.0,504.0 C368.9,509.9 375.2,521.1 377.6,524.5" fill="none" stroke="#eceef0" stroke-width="5.0" stroke-linecap="round" filter="url(#b1)" opacity="0.72"/>
<path d="M382.4,627.0 C380.0,632.5 373.7,649.6 367.8,660.0 C361.9,670.4 355.4,681.1 347.0,689.5 C338.6,697.9 328.2,704.1 317.7,710.4 C307.2,716.6 295.3,722.1 284.2,727.0 C273.1,731.9 256.4,737.4 250.8,739.5" fill="none" stroke="#eceef0" stroke-width="3.4" stroke-linecap="round" filter="url(#b1)" opacity="0.7"/>
<path d="M156.7,444.0 C163.9,443.9 187.6,443.2 200.0,443.5 C212.4,443.8 225.8,445.6 231.0,446.0" fill="none" stroke="#eceef0" stroke-width="3.2" stroke-linecap="round" filter="url(#b1)" opacity="0.4"/>
<path d="M222.0,451.0 C228.8,449.7 249.8,454.2 262.0,457.0 C274.2,459.8 285.7,464.0 295.0,468.0 C304.3,472.0 310.2,476.3 318.0,481.0 C325.8,485.7 335.0,490.8 342.0,496.0 C349.0,501.2 358.3,509.3 360.0,512.0 C361.7,514.7 354.5,513.5 352.0,512.0 C349.5,510.5 349.5,505.2 345.0,503.0 C340.5,500.8 333.5,500.5 325.0,499.0 C316.5,497.5 303.3,495.8 294.0,494.0 C284.7,492.2 277.7,491.5 269.0,488.0 C260.3,484.5 250.0,476.8 242.0,473.0 C234.0,469.2 224.3,468.7 221.0,465.0 C217.7,461.3 215.2,452.3 222.0,451.0Z" fill="#878889" filter="url(#b2)" opacity="1"/>
<path d="M205.0,739.0 C212.8,740.3 236.8,735.2 250.0,732.0 C263.2,728.8 272.8,724.8 284.0,720.0 C295.2,715.2 307.2,709.2 317.0,703.0 C326.8,696.8 335.8,690.5 343.0,683.0 C350.2,675.5 358.3,663.5 360.0,658.0 C361.7,652.5 358.0,647.3 353.0,650.0 C348.0,652.7 340.5,666.7 330.0,674.0 C319.5,681.3 304.2,687.7 290.0,694.0 C275.8,700.3 259.5,707.0 245.0,712.0 C230.5,717.0 209.7,719.5 203.0,724.0 C196.3,728.5 197.2,737.7 205.0,739.0Z" fill="#7a7a7a" filter="url(#b2)" opacity="1"/>
<path d="M200.0,739.0 C193.3,740.5 170.8,736.2 160.0,733.0 C149.2,729.8 144.2,725.2 135.0,720.0 C125.8,714.8 108.8,706.7 105.0,702.0 C101.2,697.3 107.0,691.5 112.0,692.0 C117.0,692.5 127.0,700.7 135.0,705.0 C143.0,709.3 149.2,714.8 160.0,718.0 C170.8,721.2 193.3,720.5 200.0,724.0 C206.7,727.5 206.7,737.5 200.0,739.0Z" fill="#676767" filter="url(#b2)" opacity="1"/>
<path d="M200.0,468.2 C211.8,468.8 214.0,468.7 221.0,470.3 C228.0,471.9 234.0,474.3 242.0,477.9 C250.0,481.5 260.3,488.8 269.0,492.1 C277.7,495.4 284.7,496.1 294.0,497.9 C303.3,499.6 316.5,501.4 325.0,502.6 C333.5,503.9 340.3,503.2 345.0,505.4 C349.7,507.6 351.0,511.3 353.0,515.9 C355.0,520.5 356.2,525.4 357.0,533.0 C357.8,540.6 357.6,552.8 358.0,561.5 C358.4,570.2 359.6,577.3 359.5,585.2 C359.4,593.1 358.8,599.7 357.4,609.0 C356.0,618.3 356.2,630.8 351.0,640.8 C345.8,650.8 337.1,660.8 326.0,668.7 C314.9,676.7 298.1,682.5 284.2,688.5 C270.3,694.5 256.3,700.1 242.4,704.4 C228.5,708.7 214.5,713.6 200.6,714.3 C186.7,715.0 169.9,712.0 158.8,708.4 C147.7,704.8 144.2,699.8 133.8,692.5 C123.4,685.2 107.9,676.0 96.1,664.7 C84.2,653.5 70.3,638.2 62.7,625.0 C55.1,611.8 52.0,594.8 50.2,585.2 C48.5,575.6 50.1,574.2 52.2,567.2 C54.3,560.2 58.2,550.8 62.7,543.5 C67.2,536.2 73.1,530.4 79.4,523.5 C85.7,516.6 92.6,509.1 100.3,501.9 C108.0,494.7 117.0,485.9 125.4,480.1 C133.8,474.3 138.1,469.0 150.5,467.0 C162.9,465.0 188.2,467.6 200.0,468.2Z" fill="#8c8d91" filter="url(#b1)" opacity="1"/>
<path d="M200.0,468.2 C211.8,468.8 214.0,468.7 221.0,470.3 C228.0,471.9 234.0,474.3 242.0,477.9 C250.0,481.5 260.3,488.8 269.0,492.1 C277.7,495.4 284.7,496.1 294.0,497.9 C303.3,499.6 316.5,501.4 325.0,502.6 C333.5,503.9 340.3,503.2 345.0,505.4 C349.7,507.6 351.0,511.3 353.0,515.9 C355.0,520.5 356.2,525.4 357.0,533.0 C357.8,540.6 357.6,552.8 358.0,561.5 C358.4,570.2 359.6,577.3 359.5,585.2 C359.4,593.1 358.8,599.7 357.4,609.0 C356.0,618.3 356.2,630.8 351.0,640.8 C345.8,650.8 337.1,660.8 326.0,668.7 C314.9,676.7 298.1,682.5 284.2,688.5 C270.3,694.5 256.3,700.1 242.4,704.4 C228.5,708.7 214.5,713.6 200.6,714.3 C186.7,715.0 169.9,712.0 158.8,708.4 C147.7,704.8 144.2,699.8 133.8,692.5 C123.4,685.2 107.9,676.0 96.1,664.7 C84.2,653.5 70.3,638.2 62.7,625.0 C55.1,611.8 52.0,594.8 50.2,585.2 C48.5,575.6 50.1,574.2 52.2,567.2 C54.3,560.2 58.2,550.8 62.7,543.5 C67.2,536.2 73.1,530.4 79.4,523.5 C85.7,516.6 92.6,509.1 100.3,501.9 C108.0,494.7 117.0,485.9 125.4,480.1 C133.8,474.3 138.1,469.0 150.5,467.0 C162.9,465.0 188.2,467.6 200.0,468.2Z" fill="#000" filter="url(#tex2)" opacity="0.55"/>
<path d="M200.0,468.2 C211.8,468.8 214.0,468.7 221.0,470.3 C228.0,471.9 234.0,474.3 242.0,477.9 C250.0,481.5 260.3,488.8 269.0,492.1 C277.7,495.4 284.7,496.1 294.0,497.9 C303.3,499.6 316.5,501.4 325.0,502.6 C333.5,503.9 340.3,503.2 345.0,505.4 C349.7,507.6 351.0,511.3 353.0,515.9 C355.0,520.5 356.2,525.4 357.0,533.0 C357.8,540.6 357.6,552.8 358.0,561.5 C358.4,570.2 359.6,577.3 359.5,585.2 C359.4,593.1 358.8,599.7 357.4,609.0 C356.0,618.3 356.2,630.8 351.0,640.8 C345.8,650.8 337.1,660.8 326.0,668.7 C314.9,676.7 298.1,682.5 284.2,688.5 C270.3,694.5 256.3,700.1 242.4,704.4 C228.5,708.7 214.5,713.6 200.6,714.3 C186.7,715.0 169.9,712.0 158.8,708.4 C147.7,704.8 144.2,699.8 133.8,692.5 C123.4,685.2 107.9,676.0 96.1,664.7 C84.2,653.5 70.3,638.2 62.7,625.0 C55.1,611.8 52.0,594.8 50.2,585.2 C48.5,575.6 50.1,574.2 52.2,567.2 C54.3,560.2 58.2,550.8 62.7,543.5 C67.2,536.2 73.1,530.4 79.4,523.5 C85.7,516.6 92.6,509.1 100.3,501.9 C108.0,494.7 117.0,485.9 125.4,480.1 C133.8,474.3 138.1,469.0 150.5,467.0 C162.9,465.0 188.2,467.6 200.0,468.2Z" fill="#000" filter="url(#texB)" opacity="1"/>
<path d="M205.0,461.0 C207.7,461.5 214.8,462.1 221.0,464.0 C227.2,465.9 234.0,468.7 242.0,472.5 C250.0,476.3 260.3,483.6 269.0,487.0 C277.7,490.4 284.7,491.2 294.0,493.0 C303.3,494.8 316.3,496.3 325.0,497.5 C333.7,498.7 341.2,498.1 346.0,500.0 C350.8,501.9 352.0,504.2 354.0,509.0 C356.0,513.8 357.3,525.7 358.0,529.0" fill="none" stroke="#333" stroke-width="3.5" stroke-linecap="round" filter="url(#b1)" opacity="1"/>
<path d="M203.0,721.5 C209.6,719.8 228.9,715.9 242.4,711.4 C255.9,706.9 270.3,701.0 284.2,694.7 C298.1,688.4 314.9,682.2 326.0,673.8 C337.1,665.4 345.8,654.3 351.0,644.5 C356.2,634.7 356.0,619.9 357.0,615.0" fill="none" stroke="#383838" stroke-width="3.2" stroke-linecap="round" filter="url(#b1)" opacity="1"/>
<path d="M350.0,512.0 C351.5,508.8 360.3,515.3 364.0,522.0 C367.7,528.7 370.3,540.7 372.0,552.0 C373.7,563.3 374.2,577.0 374.0,590.0 C373.8,603.0 373.0,619.2 371.0,630.0 C369.0,640.8 365.2,650.0 362.0,655.0 C358.8,660.0 353.2,663.7 352.0,660.0 C350.8,656.3 353.8,645.8 355.0,633.0 C356.2,620.2 359.0,598.3 359.0,583.0 C359.0,567.7 356.5,552.8 355.0,541.0 C353.5,529.2 348.5,515.2 350.0,512.0Z" fill="#272827" filter="url(#b2)" opacity="1"/>
<path d="M36.0,560.0 C38.7,552.0 47.3,545.3 50.0,552.0 C52.7,558.7 51.0,587.3 52.0,600.0 C53.0,612.7 57.3,622.7 56.0,628.0 C54.7,633.3 47.7,636.7 44.0,632.0 C40.3,627.3 35.3,612.0 34.0,600.0 C32.7,588.0 33.3,568.0 36.0,560.0Z" fill="#2a2b2a" filter="url(#b2)" opacity="1"/>
<path d="M86.0,560.0 C93.0,553.3 109.3,550.7 120.0,550.0 C130.7,549.3 141.7,552.3 150.0,556.0 C158.3,559.7 166.3,566.3 170.0,572.0 C173.7,577.7 172.3,583.7 172.0,590.0 C171.7,596.3 171.7,604.7 168.0,610.0 C164.3,615.3 158.3,619.3 150.0,622.0 C141.7,624.7 128.0,626.7 118.0,626.0 C108.0,625.3 96.7,624.0 90.0,618.0 C83.3,612.0 78.7,599.7 78.0,590.0 C77.3,580.3 79.0,566.7 86.0,560.0Z" fill="#838487" filter="url(#b3)" opacity="1"/>
<path d="M89.0,564.5 C89.6,568.8 92.4,581.5 92.4,590.0 C92.4,598.5 89.6,611.2 89.0,615.5" fill="none" stroke="#68696c" stroke-width="1.8" stroke-linecap="round" filter="url(#b1)" opacity="0.45"/>
<path d="M100.0,563.0 C100.6,567.5 103.6,581.0 103.6,590.0 C103.6,599.0 100.6,612.5 100.0,617.0" fill="none" stroke="#68696c" stroke-width="1.8" stroke-linecap="round" filter="url(#b1)" opacity="0.45"/>
<path d="M111.0,561.5 C111.6,566.2 114.8,580.5 114.8,590.0 C114.8,599.5 111.6,613.8 111.0,618.5" fill="none" stroke="#68696c" stroke-width="1.8" stroke-linecap="round" filter="url(#b1)" opacity="0.45"/>
<path d="M122.0,560.0 C122.7,565.0 126.0,580.0 126.0,590.0 C126.0,600.0 122.7,615.0 122.0,620.0" fill="none" stroke="#68696c" stroke-width="1.8" stroke-linecap="round" filter="url(#b1)" opacity="0.45"/>
<path d="M133.0,561.5 C133.7,566.2 137.2,580.5 137.2,590.0 C137.2,599.5 133.7,613.8 133.0,618.5" fill="none" stroke="#68696c" stroke-width="1.8" stroke-linecap="round" filter="url(#b1)" opacity="0.45"/>
<path d="M144.0,563.0 C144.7,567.5 148.4,581.0 148.4,590.0 C148.4,599.0 144.7,612.5 144.0,617.0" fill="none" stroke="#68696c" stroke-width="1.8" stroke-linecap="round" filter="url(#b1)" opacity="0.45"/>
<path d="M155.0,564.5 C155.8,568.8 159.6,581.5 159.6,590.0 C159.6,598.5 155.8,611.2 155.0,615.5" fill="none" stroke="#68696c" stroke-width="1.8" stroke-linecap="round" filter="url(#b1)" opacity="0.45"/>
<path d="M170.0,590.0 C170.0,583.3 172.7,574.8 176.0,570.0 C179.3,565.2 184.8,562.3 190.0,561.0 C195.2,559.7 203.3,559.7 207.0,562.0 C210.7,564.3 211.8,570.3 212.0,575.0 C212.2,579.7 208.0,584.8 208.0,590.0 C208.0,595.2 212.5,600.8 212.0,606.0 C211.5,611.2 209.0,618.7 205.0,621.0 C201.0,623.3 192.8,621.8 188.0,620.0 C183.2,618.2 179.0,615.0 176.0,610.0 C173.0,605.0 170.0,596.7 170.0,590.0Z" fill="#b6b6b6" filter="url(#b2)" opacity="1"/>
<ellipse cx="212.0" cy="590.0" rx="5.0" ry="4.0" fill="#4a4a4a" filter="url(#b1)" opacity="1" transform="rotate(0 212.0 590.0)"/>
<path d="M150.0,560.0 C153.7,561.3 165.7,568.3 172.0,568.0 C178.3,567.7 183.3,561.8 188.0,558.0 C192.7,554.2 198.0,547.2 200.0,545.0" fill="none" stroke="#5a5a5a" stroke-width="3" stroke-linecap="round" filter="url(#b1)" opacity="1"/>
<path d="M170.0,612.0 C173.0,613.7 183.0,618.0 188.0,622.0 C193.0,626.0 196.7,631.3 200.0,636.0 C203.3,640.7 206.7,647.7 208.0,650.0" fill="none" stroke="#585858" stroke-width="3" stroke-linecap="round" filter="url(#b1)" opacity="1"/>
<ellipse cx="232.0" cy="578.0" rx="5.0" ry="7.0" fill="#4c4c4c" filter="url(#b1)" opacity="1" transform="rotate(0 232.0 578.0)"/>
<ellipse cx="238.0" cy="600.0" rx="5.0" ry="6.0" fill="#505050" filter="url(#b1)" opacity="1" transform="rotate(0 238.0 600.0)"/>
<path d="M226.0,581.0 C231.7,581.1 247.7,581.5 260.0,581.5 C272.3,581.5 284.3,581.1 300.0,581.0 C315.7,580.9 345.0,581.0 354.0,581.0" fill="none" stroke="#5e5e5e" stroke-width="3" stroke-linecap="round" filter="url(#b1)" opacity="1"/>
<path d="M201.0,480.0 C203.3,472.5 214.2,472.5 217.0,480.0 C219.8,487.5 220.3,517.5 218.0,525.0 C215.7,532.5 205.8,532.5 203.0,525.0 C200.2,517.5 198.7,487.5 201.0,480.0Z" fill="#bdbdbd" filter="url(#b2)" opacity="0.7"/>
<path d="M150.0,488.0 C158.3,487.7 191.7,496.0 200.0,500.0 C208.3,504.0 208.3,511.7 200.0,512.0 C191.7,512.3 158.3,506.0 150.0,502.0 C141.7,498.0 141.7,488.3 150.0,488.0Z" fill="#adadad" filter="url(#b2)" opacity="0.7"/>
<path d="M168.0,655.0 C174.2,647.5 196.0,648.3 205.0,650.0 C214.0,651.7 219.2,655.8 222.0,665.0 C224.8,674.2 224.8,696.5 222.0,705.0 C219.2,713.5 211.2,714.8 205.0,716.0 C198.8,717.2 191.2,715.5 185.0,712.0 C178.8,708.5 170.8,704.5 168.0,695.0 C165.2,685.5 161.8,662.5 168.0,655.0Z" fill="#adadad" filter="url(#b3)" opacity="0.7"/>
<path d="M120.0,655.0 C127.2,653.7 157.5,658.5 165.0,662.0 C172.5,665.5 172.2,674.7 165.0,676.0 C157.8,677.3 129.5,673.5 122.0,670.0 C114.5,666.5 112.8,656.3 120.0,655.0Z" fill="#ababab" filter="url(#b2)" opacity="0.7"/>
<path d="M240.0,500.0 C248.3,495.3 285.0,507.0 300.0,512.0 C315.0,517.0 325.0,522.0 330.0,530.0 C335.0,538.0 336.7,555.0 330.0,560.0 C323.3,565.0 303.3,563.3 290.0,560.0 C276.7,556.7 258.3,550.0 250.0,540.0 C241.7,530.0 231.7,504.7 240.0,500.0Z" fill="#a6a6a6" filter="url(#b3)" opacity="0.7"/>
<path d="M240.0,610.0 C249.2,601.0 283.3,605.2 300.0,606.0 C316.7,606.8 334.2,607.7 340.0,615.0 C345.8,622.3 343.3,641.2 335.0,650.0 C326.7,658.8 305.0,666.3 290.0,668.0 C275.0,669.7 253.3,669.7 245.0,660.0 C236.7,650.3 230.8,619.0 240.0,610.0Z" fill="#a8a8a8" filter="url(#b3)" opacity="0.7"/>
<ellipse cx="190.0" cy="655.0" rx="9.0" ry="12.0" fill="#7c7c7c" filter="url(#b2)" opacity="0.7" transform="rotate(0 190.0 655.0)"/>
<ellipse cx="165.0" cy="640.0" rx="8.0" ry="8.0" fill="#808080" filter="url(#b2)" opacity="0.7" transform="rotate(0 165.0 640.0)"/>
<path d="M150.0,688.0 C155.8,686.0 179.2,686.0 185.0,688.0 C190.8,690.0 190.8,698.0 185.0,700.0 C179.2,702.0 155.8,702.0 150.0,700.0 C144.2,698.0 144.2,690.0 150.0,688.0Z" fill="#808080" filter="url(#b2)" opacity="0.7"/>
<ellipse cx="225.0" cy="540.0" rx="7.0" ry="12.0" fill="#7a7a7a" filter="url(#b2)" opacity="0.7" transform="rotate(0 225.0 540.0)"/>
<ellipse cx="262.0" cy="530.0" rx="12.0" ry="7.0" fill="#7c7c7c" filter="url(#b2)" opacity="0.7" transform="rotate(20 262.0 530.0)"/>
<ellipse cx="300.0" cy="545.0" rx="8.0" ry="10.0" fill="#7e7e7e" filter="url(#b2)" opacity="0.7" transform="rotate(0 300.0 545.0)"/>
<ellipse cx="280.0" cy="600.0" rx="14.0" ry="6.0" fill="#7c7c7c" filter="url(#b2)" opacity="0.7" transform="rotate(0 280.0 600.0)"/>
<ellipse cx="320.0" cy="625.0" rx="8.0" ry="12.0" fill="#7e7e7e" filter="url(#b2)" opacity="0.7" transform="rotate(0 320.0 625.0)"/>
<ellipse cx="255.0" cy="640.0" rx="9.0" ry="9.0" fill="#7a7a7a" filter="url(#b2)" opacity="0.7" transform="rotate(0 255.0 640.0)"/>
<ellipse cx="110.0" cy="520.0" rx="12.0" ry="6.0" fill="#808080" filter="url(#b2)" opacity="0.7" transform="rotate(-30 110.0 520.0)"/>
<ellipse cx="150.0" cy="520.0" rx="10.0" ry="6.0" fill="#848484" filter="url(#b2)" opacity="0.7" transform="rotate(10 150.0 520.0)"/>
<ellipse cx="95.0" cy="650.0" rx="10.0" ry="6.0" fill="#808080" filter="url(#b2)" opacity="0.7" transform="rotate(35 95.0 650.0)"/>
</g>
<path d="M207.3,527.6h7.3v-5.6h6.7v21.7h-14z" fill="#e9e163"/>
<rect x="227.8" y="672.8" width="6.2" height="14.6" fill="#e6dc45"/>
<line x1="217.8" y1="425.6" x2="217.8" y2="750.6" stroke="#2c2880" stroke-width="1.7"/>
<line x1="5" y1="533.5" x2="395.3" y2="533.5" stroke="#2c2880" stroke-width="1.7"/>
<line x1="224.7" y1="537" x2="245.6" y2="545.8" stroke="#fff" stroke-width="3.2"/>
<text transform="translate(20.8,463.9) scale(1.09,1)" font-size="32.5" font-weight="bold" fill="#fff">CR</text>
<text transform="translate(275.6,455.2) scale(0.98,1)" font-size="26" font-weight="bold" fill="#fff">-30 -8 -16</text>
<text transform="translate(240.6,578.8) scale(1.06,1)" font-size="27.8" font-weight="bold" fill="#fff">Hippo</text>
<text x="18.7" y="32.2" font-size="34.5" font-weight="bold" fill="#000">A</text>
<text transform="translate(355.6,38.4) scale(1.012,1)" font-size="33.5" fill="#111">Hippocampus</text>
<line x1="659.3" y1="82.0" x2="659.3" y2="368.6" stroke="#222" stroke-width="1.3"/>
<line x1="517.1" y1="259.1" x2="947.4" y2="259.1" stroke="#222" stroke-width="1.3"/>
<ellipse cx="583.0" cy="139.0" rx="9.5" ry="9.0" fill="#4169b4"/>
<ellipse cx="649.6" cy="128.4" rx="9.5" ry="9.0" fill="#4169b4"/>
<ellipse cx="638.1" cy="140.2" rx="9.5" ry="9.0" fill="#4169b4"/>
<ellipse cx="678.6" cy="128.2" rx="9.5" ry="9.0" fill="#4169b4"/>
<ellipse cx="721.4" cy="131.2" rx="9.5" ry="9.0" fill="#4169b4"/>
<ellipse cx="653.8" cy="156.5" rx="9.5" ry="9.0" fill="#4169b4"/>
<ellipse cx="591.7" cy="174.0" rx="9.5" ry="9.0" fill="#4169b4"/>
<ellipse cx="607.6" cy="174.4" rx="9.5" ry="9.0" fill="#4169b4"/>
<ellipse cx="625.0" cy="179.0" rx="9.5" ry="9.0" fill="#4169b4"/>
<ellipse cx="680.0" cy="183.4" rx="9.5" ry="9.0" fill="#4169b4"/>
<ellipse cx="646.9" cy="196.0" rx="9.5" ry="9.0" fill="#4169b4"/>
<ellipse cx="664.1" cy="199.2" rx="9.5" ry="9.0" fill="#4169b4"/>
<ellipse cx="669.0" cy="204.5" rx="9.5" ry="9.0" fill="#4169b4"/>
<ellipse cx="711.7" cy="204.5" rx="9.5" ry="9.0" fill="#4169b4"/>
<ellipse cx="728.7" cy="200.4" rx="9.5" ry="9.0" fill="#4169b4"/>
<ellipse cx="728.7" cy="210.7" rx="9.5" ry="9.0" fill="#4169b4"/>
<ellipse cx="710.8" cy="217.2" rx="9.5" ry="9.0" fill="#4169b4"/>
<ellipse cx="574.9" cy="215.8" rx="9.5" ry="9.0" fill="#4169b4"/>
<ellipse cx="579.0" cy="222.2" rx="9.5" ry="9.0" fill="#4169b4"/>
<ellipse cx="657.2" cy="230.0" rx="9.5" ry="9.0" fill="#4169b4"/>
<ellipse cx="676.8" cy="234.6" rx="9.5" ry="9.0" fill="#4169b4"/>
<ellipse cx="710.1" cy="245.0" rx="9.5" ry="9.0" fill="#4169b4"/>
<ellipse cx="699.3" cy="251.4" rx="9.5" ry="9.0" fill="#4169b4"/>
<ellipse cx="718.6" cy="258.3" rx="9.5" ry="9.0" fill="#4169b4"/>
<ellipse cx="680.7" cy="273.0" rx="9.5" ry="9.0" fill="#4169b4"/>
<ellipse cx="601.1" cy="296.0" rx="9.5" ry="9.0" fill="#4169b4"/>
<ellipse cx="637.5" cy="307.5" rx="9.5" ry="9.0" fill="#4169b4"/>
<ellipse cx="856.5" cy="350.7" rx="9.5" ry="9.0" fill="#4169b4"/>
<ellipse cx="778.0" cy="178.4" rx="9.5" ry="9.0" fill="#4169b4"/>
<ellipse cx="926.3" cy="207.6" rx="9.5" ry="9.0" fill="#4169b4"/>
<ellipse cx="835.0" cy="248.3" rx="9.5" ry="9.0" fill="#4169b4"/>
<ellipse cx="893.2" cy="244.4" rx="9.5" ry="9.0" fill="#4169b4"/>
<ellipse cx="886.8" cy="252.9" rx="9.5" ry="9.0" fill="#4169b4"/>
<ellipse cx="773.7" cy="265.8" rx="9.5" ry="9.0" fill="#4169b4"/>
<ellipse cx="791.4" cy="283.3" rx="9.5" ry="9.0" fill="#4169b4"/>
<ellipse cx="771.8" cy="289.7" rx="9.5" ry="9.0" fill="#4169b4"/>
<ellipse cx="828.4" cy="306.9" rx="9.5" ry="9.0" fill="#4169b4"/>
<line x1="517.0" y1="188.8" x2="947.2" y2="296.2" stroke="#1e7a36" stroke-width="4.2"/>
<rect x="517.1" y="82.0" width="430.3" height="286.6" fill="none" stroke="#000" stroke-width="2.6"/>
<line x1="516.8" y1="368.6" x2="516.8" y2="379.1" stroke="#000" stroke-width="2"/>
<text transform="translate(517.6,407.2) scale(1.050,1)" font-size="24.5" text-anchor="middle" fill="#111" >-2</text>
<line x1="591.8" y1="368.6" x2="591.8" y2="379.1" stroke="#000" stroke-width="2"/>
<text transform="translate(587.8,407.2) scale(1.050,1)" font-size="24.5" text-anchor="middle" fill="#111" >-1</text>
<line x1="659.3" y1="368.6" x2="659.3" y2="379.1" stroke="#000" stroke-width="2"/>
<text transform="translate(659.3,407.2) scale(1.050,1)" font-size="24.5" text-anchor="middle" fill="#111" >0</text>
<line x1="733.6" y1="368.6" x2="733.6" y2="379.1" stroke="#000" stroke-width="2"/>
<text transform="translate(732.6,407.2) scale(1.050,1)" font-size="24.5" text-anchor="middle" fill="#111" >1</text>
<line x1="805.8" y1="368.6" x2="805.8" y2="379.1" stroke="#000" stroke-width="2"/>
<text transform="translate(804.3,407.2) scale(1.050,1)" font-size="24.5" text-anchor="middle" fill="#111" >2</text>
<line x1="875.5" y1="368.6" x2="875.5" y2="379.1" stroke="#000" stroke-width="2"/>
<text transform="translate(874.5,407.2) scale(1.050,1)" font-size="24.5" text-anchor="middle" fill="#111" >3</text>
<line x1="946.7" y1="368.6" x2="946.7" y2="379.1" stroke="#000" stroke-width="2"/>
<text transform="translate(946.7,407.2) scale(1.050,1)" font-size="24.5" text-anchor="middle" fill="#111" >4</text>
<line x1="505.6" y1="117.7" x2="517.1" y2="117.7" stroke="#000" stroke-width="2"/>
<text transform="translate(500.8,127.7) scale(1.050,1)" font-size="24.5" text-anchor="end" fill="#111" >2</text>
<line x1="505.6" y1="189.3" x2="517.1" y2="189.3" stroke="#000" stroke-width="2"/>
<text transform="translate(500.8,199.3) scale(1.050,1)" font-size="24.5" text-anchor="end" fill="#111" >1</text>
<line x1="505.6" y1="260.5" x2="517.1" y2="260.5" stroke="#000" stroke-width="2"/>
<text transform="translate(500.8,270.5) scale(1.050,1)" font-size="24.5" text-anchor="end" fill="#111" >0</text>
<line x1="505.6" y1="332.5" x2="517.1" y2="332.5" stroke="#000" stroke-width="2"/>
<text transform="translate(500.8,342.5) scale(1.050,1)" font-size="24.5" text-anchor="end" fill="#111" >-1</text>
<text transform="translate(466.3,359.8) rotate(-90)" font-size="30.9" fill="#111">Memory scores (<tspan font-style="italic">d</tspan><tspan dx="1">′</tspan><tspan font-style="italic" font-size="22" dy="6" dx="1.5">L</tspan><tspan dy="-6" dx="1">)</tspan></text>
<text transform="translate(825.5,113.8) scale(1.070,1)" font-size="25.7" text-anchor="start" fill="#111" ><tspan font-style="italic">r</tspan> = 0.417</text>
<text transform="translate(823.5,151.2) scale(1.070,1)" font-size="25.7" text-anchor="start" fill="#111" ><tspan font-style="italic">p</tspan> = 0.009</text>
<line x1="659.3" y1="430.0" x2="659.3" y2="715.6" stroke="#222" stroke-width="1.3"/>
<line x1="517.1" y1="607.0" x2="947.4" y2="607.0" stroke="#222" stroke-width="1.3"/>
<ellipse cx="526.7" cy="486.6" rx="9.5" ry="9.0" fill="#4169b4"/>
<ellipse cx="599.3" cy="476.7" rx="9.5" ry="9.0" fill="#4169b4"/>
<ellipse cx="626.4" cy="472.8" rx="9.5" ry="9.0" fill="#4169b4"/>
<ellipse cx="624.6" cy="480.4" rx="9.5" ry="9.0" fill="#4169b4"/>
<ellipse cx="695.6" cy="486.6" rx="9.5" ry="9.0" fill="#4169b4"/>
<ellipse cx="715.6" cy="504.6" rx="9.5" ry="9.0" fill="#4169b4"/>
<ellipse cx="566.9" cy="524.1" rx="9.5" ry="9.0" fill="#4169b4"/>
<ellipse cx="598.6" cy="520.0" rx="9.5" ry="9.0" fill="#4169b4"/>
<ellipse cx="653.1" cy="526.2" rx="9.5" ry="9.0" fill="#4169b4"/>
<ellipse cx="712.9" cy="526.4" rx="9.5" ry="9.0" fill="#4169b4"/>
<ellipse cx="718.8" cy="534.2" rx="9.5" ry="9.0" fill="#4169b4"/>
<ellipse cx="623.4" cy="548.7" rx="9.5" ry="9.0" fill="#4169b4"/>
<ellipse cx="659.3" cy="547.8" rx="9.5" ry="9.0" fill="#4169b4"/>
<ellipse cx="697.5" cy="552.1" rx="9.5" ry="9.0" fill="#4169b4"/>
<ellipse cx="731.9" cy="546.0" rx="9.5" ry="9.0" fill="#4169b4"/>
<ellipse cx="736.0" cy="553.4" rx="9.5" ry="9.0" fill="#4169b4"/>
<ellipse cx="606.7" cy="565.9" rx="9.5" ry="9.0" fill="#4169b4"/>
<ellipse cx="708.3" cy="565.9" rx="9.5" ry="9.0" fill="#4169b4"/>
<ellipse cx="687.1" cy="571.5" rx="9.5" ry="9.0" fill="#4169b4"/>
<ellipse cx="651.3" cy="575.4" rx="9.5" ry="9.0" fill="#4169b4"/>
<ellipse cx="577.9" cy="592.1" rx="9.5" ry="9.0" fill="#4169b4"/>
<ellipse cx="668.7" cy="592.1" rx="9.5" ry="9.0" fill="#4169b4"/>
<ellipse cx="684.4" cy="582.9" rx="9.5" ry="9.0" fill="#4169b4"/>
<ellipse cx="719.8" cy="600.2" rx="9.5" ry="9.0" fill="#4169b4"/>
<ellipse cx="733.1" cy="630.8" rx="9.5" ry="9.0" fill="#4169b4"/>
<ellipse cx="585.7" cy="643.9" rx="9.5" ry="9.0" fill="#4169b4"/>
<ellipse cx="682.3" cy="653.7" rx="9.5" ry="9.0" fill="#4169b4"/>
<ellipse cx="741.9" cy="558.2" rx="9.5" ry="9.0" fill="#4169b4"/>
<ellipse cx="761.2" cy="557.3" rx="9.5" ry="9.0" fill="#4169b4"/>
<ellipse cx="776.0" cy="599.3" rx="9.5" ry="9.0" fill="#4169b4"/>
<ellipse cx="836.9" cy="595.8" rx="9.5" ry="9.0" fill="#4169b4"/>
<ellipse cx="917.8" cy="603.9" rx="9.5" ry="9.0" fill="#4169b4"/>
<ellipse cx="746.5" cy="605.0" rx="9.5" ry="9.0" fill="#4169b4"/>
<ellipse cx="810.4" cy="614.2" rx="9.5" ry="9.0" fill="#4169b4"/>
<ellipse cx="749.5" cy="619.5" rx="9.5" ry="9.0" fill="#4169b4"/>
<ellipse cx="735.0" cy="631.4" rx="9.5" ry="9.0" fill="#4169b4"/>
<ellipse cx="835.0" cy="637.2" rx="9.5" ry="9.0" fill="#4169b4"/>
<ellipse cx="789.5" cy="655.1" rx="9.5" ry="9.0" fill="#4169b4"/>
<ellipse cx="835.0" cy="697.0" rx="9.5" ry="9.0" fill="#4169b4"/>
<line x1="517.0" y1="507.0" x2="947.2" y2="660.8" stroke="#1e7a36" stroke-width="4.2"/>
<rect x="517.1" y="430.0" width="430.3" height="285.6" fill="none" stroke="#000" stroke-width="2.6"/>
<line x1="516.8" y1="715.6" x2="516.8" y2="726.1" stroke="#000" stroke-width="2"/>
<text transform="translate(517.6,756.6) scale(1.050,1)" font-size="24.5" text-anchor="middle" fill="#111" >-2</text>
<line x1="591.8" y1="715.6" x2="591.8" y2="726.1" stroke="#000" stroke-width="2"/>
<text transform="translate(587.8,756.6) scale(1.050,1)" font-size="24.5" text-anchor="middle" fill="#111" >-1</text>
<line x1="659.3" y1="715.6" x2="659.3" y2="726.1" stroke="#000" stroke-width="2"/>
<text transform="translate(659.3,756.6) scale(1.050,1)" font-size="24.5" text-anchor="middle" fill="#111" >0</text>
<line x1="733.6" y1="715.6" x2="733.6" y2="726.1" stroke="#000" stroke-width="2"/>
<text transform="translate(732.6,756.6) scale(1.050,1)" font-size="24.5" text-anchor="middle" fill="#111" >1</text>
<line x1="805.8" y1="715.6" x2="805.8" y2="726.1" stroke="#000" stroke-width="2"/>
<text transform="translate(804.3,756.6) scale(1.050,1)" font-size="24.5" text-anchor="middle" fill="#111" >2</text>
<line x1="875.5" y1="715.6" x2="875.5" y2="726.1" stroke="#000" stroke-width="2"/>
<text transform="translate(874.5,756.6) scale(1.050,1)" font-size="24.5" text-anchor="middle" fill="#111" >3</text>
<line x1="946.7" y1="715.6" x2="946.7" y2="726.1" stroke="#000" stroke-width="2"/>
<text transform="translate(946.7,756.6) scale(1.050,1)" font-size="24.5" text-anchor="middle" fill="#111" >4</text>
<line x1="505.6" y1="465.0" x2="517.1" y2="465.0" stroke="#000" stroke-width="2"/>
<text transform="translate(500.8,475.0) scale(1.050,1)" font-size="24.5" text-anchor="end" fill="#111" >2</text>
<line x1="505.6" y1="536.3" x2="517.1" y2="536.3" stroke="#000" stroke-width="2"/>
<text transform="translate(500.8,546.3) scale(1.050,1)" font-size="24.5" text-anchor="end" fill="#111" >1</text>
<line x1="505.6" y1="607.0" x2="517.1" y2="607.0" stroke="#000" stroke-width="2"/>
<text transform="translate(500.8,617.0) scale(1.050,1)" font-size="24.5" text-anchor="end" fill="#111" >0</text>
<line x1="505.6" y1="679.5" x2="517.1" y2="679.5" stroke="#000" stroke-width="2"/>
<text transform="translate(500.8,689.5) scale(1.050,1)" font-size="24.5" text-anchor="end" fill="#111" >-1</text>
<text transform="translate(466.3,723.6) rotate(-90)" font-size="31.3" fill="#111">Memory scores (<tspan font-style="italic">d</tspan><tspan dx="1">′</tspan><tspan font-style="italic" font-size="22" dy="6" dx="1.5">L</tspan><tspan dy="-6" dx="1">)</tspan></text>
<text transform="translate(820.0,464.8) scale(1.070,1)" font-size="25.7" text-anchor="start" fill="#111" ><tspan font-style="italic">r</tspan> = 0.540</text>
<text transform="translate(817.3,497.0) scale(1.070,1)" font-size="25.7" text-anchor="start" fill="#111" ><tspan font-style="italic">p</tspan> &lt; 0.001</text>
<rect x="7.4" y="802.1" width="940.3" height="614.6" fill="none" stroke="#000" stroke-width="2.4"/>
<text x="17.6" y="845.2" font-size="34.5" font-weight="bold" fill="#000">B</text>
<g>
<path d="M688.1,1092.1 C684,1108 684,1124 688.1,1139.1" stroke="#6ec63e" stroke-width="4.6" fill="none" stroke-linecap="round"/>
<path d="M688.1,1092.1 C692.5,1108 692.5,1124 688.1,1139.1" stroke="#6ec63e" stroke-width="4.6" fill="none" stroke-linecap="round"/>
<path d="M688.1,1092.1 C697,1078 722,1075 737.0,1080.8" stroke="#6ec63e" stroke-width="4.2" fill="none" stroke-linecap="round"/>
<path d="M688.1,1092.1 C701,1089.7 720,1086 737.0,1080.8" stroke="#6ec63e" stroke-width="3.4" fill="none" stroke-linecap="round"/>
<path d="M688.1,1139.1 C694,1100 712,1094 737.0,1080.8" stroke="#6ec63e" stroke-width="4.5" fill="none" stroke-linecap="round"/>
<path d="M737.0,1080.8 C720.5,1130 720.5,1160 766.3,1232.6" stroke="#6ec63e" stroke-width="4.5" fill="none" stroke-linecap="round"/>
<path d="M688.1,1139.1 C698,1180 715,1210 766.3,1232.6" stroke="#6ec63e" stroke-width="4.5" fill="none" stroke-linecap="round"/>
<path d="M501.6,1138.7 Q593,1110.5 688.1,1092.1" stroke="#5fc8a3" stroke-width="4.0" fill="none" stroke-linecap="round"/>
<path d="M501.6,1138.7 C560,1105 620,1100 688.1,1139.1" stroke="#5fc8a3" stroke-width="4.0" fill="none" stroke-linecap="round"/>
<path d="M501.6,1138.7 C560,1133 620,1133 650,1142.7 S716,1192 766.3,1232.6" stroke="#5fc8a3" stroke-width="4.0" fill="none" stroke-linecap="round"/>
<path d="M688.1,1092.1 C699,1085.5 721,1082.2 737.0,1080.8" stroke="#5fc8a3" stroke-width="3.2" fill="none" stroke-linecap="round"/>
<path d="M737.0,1080.8 C732,1118 718,1126 688.1,1139.1" stroke="#5fc8a3" stroke-width="4.0" fill="none" stroke-linecap="round"/>
<path d="M737.0,1080.8 C745,1120 752,1170 766.3,1232.6" stroke="#5fc8a3" stroke-width="4.0" fill="none" stroke-linecap="round"/>
<path d="M688.1,1139.1 C716,1166 738,1196 766.3,1232.6" stroke="#5fc8a3" stroke-width="3.4" fill="none" stroke-linecap="round"/>
<path d="M501.6,1138.7 L462.4,1197.3" stroke="#3d8fd8" stroke-width="4.0" fill="none" stroke-linecap="round"/>
<path d="M462.4,1197.3 L688.1,1139.1" stroke="#3d8fd8" stroke-width="4.0" fill="none" stroke-linecap="round"/>
<path d="M462.4,1197.3 L766.3,1232.6" stroke="#3d8fd8" stroke-width="4.0" fill="none" stroke-linecap="round"/>
<path d="M501.6,1138.7 C560,1170 610,1185 688.1,1139.1" stroke="#3d8fd8" stroke-width="4.0" fill="none" stroke-linecap="round"/>
<path d="M501.6,1138.7 C565,1215 625,1250 766.3,1232.6" stroke="#3d8fd8" stroke-width="4.0" fill="none" stroke-linecap="round"/>
<path d="M688.1,1139.1 C720,1148 752,1175 766.3,1232.6" stroke="#3d8fd8" stroke-width="4.0" fill="none" stroke-linecap="round"/>
<path d="M540.5,859.5 L148.6,1162.8" stroke="#384cb2" stroke-width="4.0" fill="none" stroke-linecap="round"/>
<path d="M540.5,859.5 L276.0,1325.7" stroke="#384cb2" stroke-width="4.0" fill="none" stroke-linecap="round"/>
<path d="M540.5,859.5 L766.0,1139.2" stroke="#384cb2" stroke-width="4.0" fill="none" stroke-linecap="round"/>
<path d="M148.6,1162.8 L276.0,1325.7" stroke="#384cb2" stroke-width="4.0" fill="none" stroke-linecap="round"/>
<path d="M148.6,1162.8 L766.0,1139.2" stroke="#384cb2" stroke-width="4.0" fill="none" stroke-linecap="round"/>
<path d="M276.0,1325.7 L766.0,1139.2" stroke="#384cb2" stroke-width="4.0" fill="none" stroke-linecap="round"/>
<path d="M540.5,1348.5 L688.1,1092.1" stroke="#a545b0" stroke-width="4.0" fill="none" stroke-linecap="round"/>
<path d="M540.5,1348.5 L737.0,1080.8" stroke="#a545b0" stroke-width="4.0" fill="none" stroke-linecap="round"/>
<path d="M540.5,1348.5 L766.3,1232.6" stroke="#a545b0" stroke-width="4.0" fill="none" stroke-linecap="round"/>
<path d="M688.1,1092.1 C705,1095 722,1096 737.0,1080.8" stroke="#a545b0" stroke-width="4.0" fill="none" stroke-linecap="round"/>
<path d="M688.1,1092.1 C735,1118 762,1160 766.3,1232.6" stroke="#a545b0" stroke-width="4.0" fill="none" stroke-linecap="round"/>
<path d="M737.0,1080.8 C768,1118 790,1165 766.3,1232.6" stroke="#a545b0" stroke-width="4.0" fill="none" stroke-linecap="round"/>
</g>
<rect x="660" y="1158.4" width="78.5" height="39.4" fill="#fff"/>
<circle cx="540.5" cy="859.5" r="7.1" fill="#000"/>
<circle cx="423.4" cy="1045.9" r="7.1" fill="#000"/>
<circle cx="148.6" cy="1162.8" r="7.1" fill="#000"/>
<circle cx="276.0" cy="1325.7" r="7.1" fill="#000"/>
<circle cx="501.6" cy="1138.7" r="7.1" fill="#000"/>
<circle cx="462.4" cy="1197.3" r="7.1" fill="#000"/>
<circle cx="688.1" cy="1092.1" r="7.1" fill="#000"/>
<circle cx="737.0" cy="1080.8" r="7.1" fill="#000"/>
<circle cx="688.1" cy="1139.1" r="7.1" fill="#000"/>
<circle cx="766.0" cy="1139.2" r="7.1" fill="#000"/>
<circle cx="766.3" cy="1232.6" r="7.1" fill="#000"/>
<circle cx="540.5" cy="1348.5" r="7.1" fill="#000"/>
<text transform="translate(561.2,863.5) scale(1.050,1)" font-size="25.1" fill="#111">aCing</text>
<text transform="translate(344.4,1072.8) scale(1.050,1)" font-size="26.4" fill="#111">Tha2</text>
<text transform="translate(73.4,1143.7) scale(1.050,1)" font-size="27.7" fill="#111">MTg1</text>
<text transform="translate(286.0,1357.0) scale(1.050,1)" font-size="28.4" fill="#111">Hipp</text>
<text transform="translate(453.0,1120.3) scale(1.050,1)" font-size="28.2" fill="#111">Puta</text>
<text transform="translate(415.7,1234.0) scale(1.050,1)" font-size="27.7" fill="#111">Tha1</text>
<text transform="translate(641.2,1074.4) scale(1.050,1)" font-size="27.8" fill="#111">Ins</text>
<text transform="translate(748.6,1068.8) scale(1.030,1)" font-size="26.0" fill="#111">IFg1</text>
<text transform="translate(667.9,1184.9) scale(1.050,1)" font-size="28.6" fill="#111">IFg2</text>
<text transform="translate(786.0,1151.5) scale(1.050,1)" font-size="25.9" fill="#111">Caud</text>
<text transform="translate(780.7,1250.5) scale(1.050,1)" font-size="27.9" fill="#111">LOg</text>
<text transform="translate(537.5,1381.9) scale(1.050,1)" font-size="30.0" fill="#111">pPC</text>
</svg>
</body></html>
